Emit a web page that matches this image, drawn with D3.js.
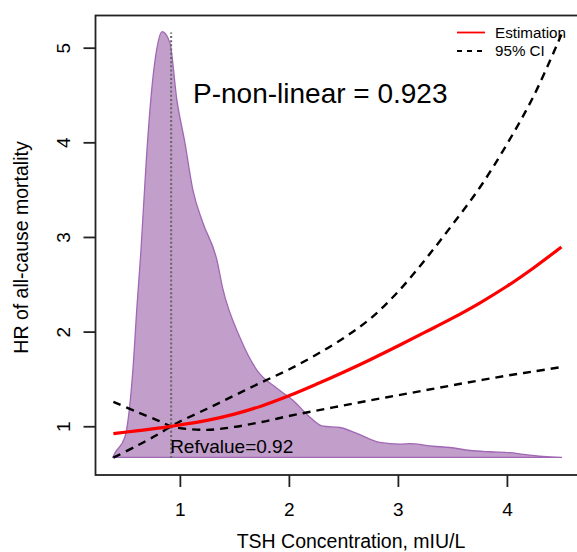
<!DOCTYPE html>
<html>
<head>
<meta charset="utf-8">
<script src="https://cdn.jsdelivr.net/npm/d3@7"></script>
<style>
  body { margin: 0; background: #fff; }
  svg text { font-family: "Liberation Sans", Arial, Helvetica, sans-serif; fill: #000; }
</style>
</head>
<body>
<div id="chart"></div>
<script>
// TSH grid for the spline fit
var tsh = [0.39, 0.6, 0.8, 0.92, 1.0, 1.25, 1.5, 1.75, 2.0, 2.25, 2.5, 2.75, 3.0, 3.25, 3.5, 3.75, 4.0, 4.25, 4.5];
// hazard ratio estimate and 95% CI
var hrEst   = [0.922, 0.951, 0.98, 1.0, 1.014, 1.062, 1.128, 1.215, 1.322, 1.443, 1.571, 1.706, 1.848, 1.994, 2.142, 2.302, 2.479, 2.678, 2.895];
var hrLower = [1.257, 1.155, 1.06, 1.0, 0.98, 0.962, 0.993, 1.045, 1.108, 1.165, 1.22, 1.275, 1.327, 1.38, 1.433, 1.485, 1.535, 1.58, 1.625];
var hrUpper = [0.668, 0.79, 0.915, 1.0, 1.05, 1.185, 1.325, 1.465, 1.60, 1.755, 1.93, 2.14, 2.42, 2.76, 3.13, 3.52, 3.98, 4.5, 5.14];

// TSH distribution (relative density, peak = 1)
var densX = [0.385, 0.404, 0.495, 0.569, 0.606, 0.642, 0.694, 0.74, 0.777, 0.838, 0.908, 0.972, 1.046, 1.119, 1.211, 1.339, 1.394, 1.55, 1.706, 1.89, 2.037, 2.193, 2.312, 2.468, 2.624, 2.835, 3.018, 3.11, 3.321, 3.477, 3.661, 3.844, 4.028, 4.147, 4.33, 4.505];
var densY = [0, 0.01, 0.047, 0.205, 0.353, 0.482, 0.706, 0.859, 0.941, 1.0, 0.974, 0.84, 0.739, 0.628, 0.551, 0.464, 0.396, 0.282, 0.205, 0.162, 0.134, 0.094, 0.073, 0.07, 0.056, 0.035, 0.031, 0.032, 0.026, 0.023, 0.016, 0.013, 0.011, 0.007, 0.002, 0];

var refValue = 0.92;
var pNonLinear = 0.923;
var xTicks = [1, 2, 3, 4];
var yTicks = [1, 2, 3, 4, 5];

var width = 577, height = 552;

var svg = d3.select("#chart").append("svg")
    .attr("width", width)
    .attr("height", height);

// plot region (R style 4% padding, right edge falls just past the window)
var x = d3.scaleLinear().domain([0.226, 4.664]).range([95.5, 579.3]);
var y = d3.scaleLinear().domain([0.485, 5.34]).range([475, 15.5]);
// density is drawn on its own vertical scale, from the bottom of the curves up to the top
var yDens = d3.scaleLinear().domain([0, 1]).range([y(0.672), y(5.17)]);

// density area
var dens = densX.map(function (d, i) { return [d, densY[i]]; });
svg.append("path")
    .datum(dens)
    .attr("fill", "#c29ecb")
    .attr("stroke", "#a068b4")
    .attr("stroke-width", 1.3)
    .attr("d", d3.area()
        .x(function (d) { return x(d[0]); })
        .y0(yDens(0))
        .y1(function (d) { return yDens(d[1]); })
        .curve(d3.curveMonotoneX));

// reference line
svg.append("line")
    .attr("x1", x(refValue)).attr("x2", x(refValue))
    .attr("y1", y(0.665)).attr("y2", y(5.16))
    .attr("stroke", "#666")
    .attr("stroke-width", 2)
    .attr("stroke-dasharray", "2,2.2");

var line = d3.line()
    .x(function (d) { return x(d[0]); })
    .y(function (d) { return y(d[1]); })
    .curve(d3.curveCatmullRom);

function pairs(vals) {
    return tsh.map(function (t, i) { return [t, vals[i]]; });
}

// confidence bands
[hrLower, hrUpper].forEach(function (vals) {
    svg.append("path")
        .datum(pairs(vals))
        .attr("fill", "none")
        .attr("stroke", "#000")
        .attr("stroke-width", 2.4)
        .attr("stroke-dasharray", "8,6")
        .attr("d", line);
});

// estimate
svg.append("path")
    .datum(pairs(hrEst))
    .attr("fill", "none")
    .attr("stroke", "#ff0000")
    .attr("stroke-width", 3.2)
    .attr("d", line);

// box (right side is off-screen)
svg.append("rect")
    .attr("x", 95.5).attr("y", 15.5)
    .attr("width", 579.3 - 95.5).attr("height", 475 - 15.5)
    .attr("fill", "none")
    .attr("stroke", "#222")
    .attr("stroke-width", 1.8);

// axes
var xAxis = svg.append("g")
    .attr("transform", "translate(0," + 475 + ")")
    .call(d3.axisBottom(x).tickValues(xTicks).tickSize(12).tickPadding(16).tickFormat(d3.format("d")));
xAxis.select(".domain").remove();
xAxis.selectAll("line").attr("stroke", "#222").attr("stroke-width", 1.8);
xAxis.selectAll("text").attr("font-size", 19).attr("font-family", "Liberation Sans, Arial, sans-serif");

var yAxis = svg.append("g")
    .attr("transform", "translate(95.5,0)")
    .call(d3.axisLeft(y).tickValues(yTicks).tickSize(12).tickFormat(d3.format("d")));
yAxis.select(".domain").remove();
yAxis.selectAll("line").attr("stroke", "#222").attr("stroke-width", 1.8);
yAxis.selectAll("text")
    .attr("font-size", 19)
    .attr("font-family", "Liberation Sans, Arial, sans-serif")
    .attr("x", null).attr("dy", null)
    .attr("text-anchor", "middle")
    .attr("transform", "translate(-25.5,0) rotate(-90)");

// axis titles
svg.append("text")
    .attr("x", 351).attr("y", 548)
    .attr("text-anchor", "middle")
    .attr("font-size", 19.5)
    .text("TSH Concentration, mIU/L");

svg.append("text")
    .attr("transform", "translate(27.5,247.5) rotate(-90)")
    .attr("text-anchor", "middle")
    .attr("font-size", 19.5)
    .text("HR of all-cause mortality");

// annotations
svg.append("text")
    .attr("x", 193).attr("y", 103)
    .attr("font-size", 28)
    .text("P-non-linear = " + pNonLinear);

svg.append("text")
    .attr("x", x(refValue) - 1).attr("y", 453)
    .attr("font-size", 19)
    .text("Refvalue=" + refValue);

// legend
var legend = svg.append("g");
legend.append("line")
    .attr("x1", 457).attr("x2", 485).attr("y1", 32.5).attr("y2", 32.5)
    .attr("stroke", "#ff0000").attr("stroke-width", 1.8);
legend.append("line")
    .attr("x1", 457).attr("x2", 485).attr("y1", 51).attr("y2", 51)
    .attr("stroke", "#000").attr("stroke-width", 1.8).attr("stroke-dasharray", "5,5");
legend.append("text")
    .attr("x", 495).attr("y", 37.5)
    .attr("font-size", 15.2)
    .text("Estimation");
legend.append("text")
    .attr("x", 495).attr("y", 56)
    .attr("font-size", 15.2)
    .text("95% CI");
</script>
</body>
</html>
